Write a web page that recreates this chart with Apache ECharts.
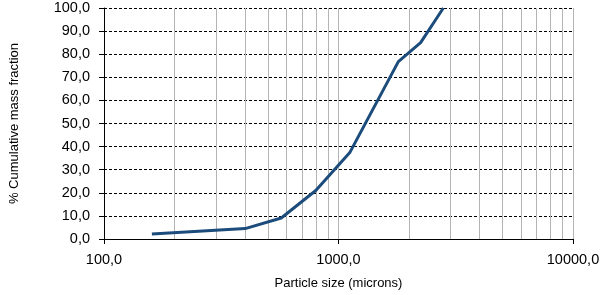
<!DOCTYPE html>
<html>
<head>
<meta charset="utf-8">
<script src="https://cdn.jsdelivr.net/npm/echarts@6/dist/echarts.min.js"></script>
<style>html,body{margin:0;padding:0;background:#fff}#c{width:610px;height:295px}</style>
</head>
<body>
<div id="c"></div>
<script>
// Data
var particleSize = [160, 400, 570, 800, 1120, 1800, 2240, 2800];
var cumulativeFraction = [2.2, 4.5, 9.1, 21.0, 37.6, 76.8, 85.0, 100.0];
var minorGridValues = [200, 300, 400, 500, 600, 700, 800, 900, 2000, 3000, 4000, 5000, 6000, 7000, 8000, 9000];
var xName = 'Particle size (microns)';
var yName = '% Cumulative mass fraction';

function fmt(v) { return Number(v).toFixed(1).replace('.', ','); }

var chart = echarts.init(document.getElementById('c'), null, {renderer: 'canvas'});
var font = 'Liberation Sans, Arial, sans-serif';
chart.setOption({
  animation: false,
  backgroundColor: '#ffffff',
  grid: {left: 102, right: 37, top: 8, bottom: 53, containLabel: false},
  xAxis: {
    type: 'log', logBase: 10, min: 100, max: 10000,
    name: xName, nameLocation: 'middle', nameGap: 38,
    nameTextStyle: {fontFamily: font, fontSize: 13, color: '#000'},
    axisLine: {show: true, onZero: false, lineStyle: {color: '#000', width: 1}},
    axisTick: {show: true, length: 5, lineStyle: {color: '#000'}},
    axisLabel: {fontFamily: font, fontSize: 14.5, color: '#000', margin: 13, formatter: fmt},
    splitLine: {show: true, lineStyle: {color: '#b4b4b4', width: 1}}
  },
  yAxis: {
    type: 'value', min: 0, max: 100, interval: 10,
    name: yName, nameLocation: 'middle', nameGap: 83, nameRotate: 90,
    nameTextStyle: {fontFamily: font, fontSize: 13, color: '#000'},
    axisLine: {show: true, lineStyle: {color: '#000', width: 1}},
    axisTick: {show: true, length: 5, lineStyle: {color: '#000'}},
    axisLabel: {fontFamily: font, fontSize: 14.5, color: '#000', margin: 14, formatter: fmt},
    splitLine: {show: true, lineStyle: {color: '#000', width: 1, type: [3, 2]}}
  },
  series: [
    {
      type: 'line', data: [], z: 1, silent: true,
      markLine: {
        silent: true, symbol: 'none', animation: false,
        label: {show: false},
        lineStyle: {color: '#b4b4b4', type: 'solid', width: 1},
        emphasis: {disabled: true},
        data: minorGridValues.map(function (v) { return {xAxis: v}; })
      }
    },
    {
      type: 'line', z: 5,
      data: particleSize.map(function (x, i) { return [x, cumulativeFraction[i]]; }),
      showSymbol: false, symbol: 'none',
      lineStyle: {color: '#1c4c7b', width: 3},
      itemStyle: {color: '#1c4c7b'}
    }
  ]
});
</script>
</body>
</html>
